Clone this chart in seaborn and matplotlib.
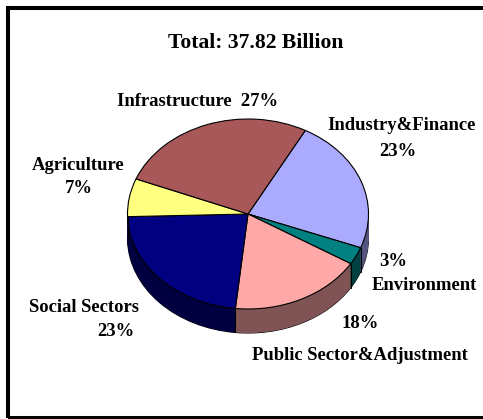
import matplotlib
matplotlib.use("Agg")
import matplotlib.pyplot as plt
from matplotlib.patches import Rectangle
import numpy as np
import seaborn as sns

# shares clockwise from the Industry&Finance slice
sectors = ["Industry&Finance", "Environment", "Public Sector&Adjustment",
           "Social Sectors", "Agriculture", "Infrastructure"]
shares = [23, 3, 18, 23, 6.5, 27]
colors = ["#AAAAFF", "#008080", "#FFA8A8", "#000080", "#FFFF80", "#A85858"]

W, H = 483, 419
cx, cy, rx, ry = 248, 214, 120.5, 95
depth = 24 / ry
start = 61.6

sns.set_theme(style="white")
plt.rcParams['font.family'] = ['Liberation Serif', 'DejaVu Serif']
plt.rcParams['font.weight'] = 'bold'

palette = sns.color_palette(colors)
dark = [tuple(c * 0.5 for c in col) for col in palette]

fig = plt.figure(figsize=(W / 100, H / 100), dpi=100, facecolor="white")
ax = fig.add_axes([0, 0, 1, 1])

# rim outline goes first so its slice edges stay hidden behind the wall
ax.pie(shares, colors=dark, startangle=start, counterclock=False,
       center=(0, -depth), wedgeprops=dict(fill=False, edgecolor="black", linewidth=0.8))

# side wall: the pie stacked downwards in darker colours
for off in np.linspace(depth, 0.01, 30):
    ax.pie(shares, colors=dark, startangle=start, counterclock=False,
           center=(0, -off), wedgeprops=dict(edgecolor="none"))

# wall seams where a slice boundary sits on the front rim
angles = start - np.cumsum(shares) / np.sum(shares) * 360
for a in np.radians(angles):
    if np.sin(a) < 0:
        ax.plot([np.cos(a)] * 2, [np.sin(a), np.sin(a) - depth], color="black", lw=0.8)

ax.pie(shares, colors=palette, startangle=start, counterclock=False,
       wedgeprops=dict(edgecolor="black", linewidth=0.8))

ax.set_aspect("auto")
ax.set_xlim((0 - cx) / rx, (W - cx) / rx)
ax.set_ylim((cy - H) / ry, cy / ry)
ax.axis("off")

# outer frame, runs off the right side of the image
fig.patches.append(Rectangle((8 / W, 1 - 418 / H), 500 / W, 410 / H, transform=fig.transFigure,
                             fill=False, edgecolor="black", linewidth=2.9, figure=fig))


def label(x, y, s, size=13.4):
    fig.text(x / W, 1 - y / H, s, ha="center", va="center", fontsize=size,
             fontweight="bold", color="black")


label(256, 43, "Total: 37.82 Billion", 15.6)
label(198, 102, "Infrastructure  27%")
label(401, 125, "Industry&Finance")
label(398, 151, "23%")
label(78, 165, "Agriculture")
label(79, 188, "7%")
label(393, 262, "3%")
label(424, 286, "Environment")
label(360, 323, "18%")
label(360, 355, "Public Sector&Adjustment")
label(84, 307, "Social Sectors")
label(116, 331, "23%")

fig.savefig("out.png", dpi=100)
